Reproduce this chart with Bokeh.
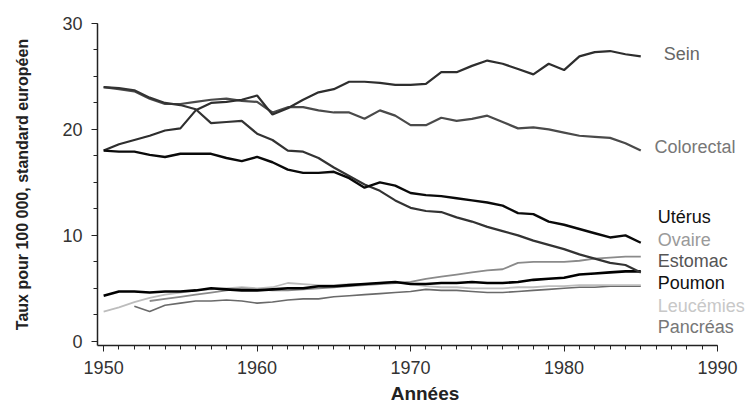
from bokeh.plotting import figure
from bokeh.models import Range1d, Label, SingleIntervalTicker
from bokeh.embed import file_html
from bokeh.resources import INLINE

years = list(range(1950, 1986))
years_ovaire = list(range(1953, 1986))
years_pancreas = list(range(1952, 1986))

sein = [18.0, 18.6, 19.0, 19.4, 19.9, 20.1, 21.8, 22.5, 22.6, 22.8, 23.2, 21.4,
        22.0, 22.8, 23.5, 23.8, 24.5, 24.5, 24.4, 24.2, 24.2, 24.3, 25.4, 25.4,
        26.0, 26.5, 26.2, 25.7, 25.2, 26.2, 25.6, 26.9, 27.3, 27.4, 27.1, 26.9]
colorectal = [24.0, 23.8, 23.6, 22.9, 22.4, 22.4, 22.6, 22.8, 22.9, 22.7, 22.6, 21.6,
              22.1, 22.1, 21.8, 21.6, 21.6, 21.0, 21.8, 21.3, 20.4, 20.4, 21.1, 20.8,
              21.0, 21.3, 20.7, 20.1, 20.2, 20.0, 19.7, 19.4, 19.3, 19.2, 18.7, 18.0]
uterus = [18.0, 17.9, 17.9, 17.6, 17.4, 17.7, 17.7, 17.7, 17.3, 17.0, 17.4, 16.9,
          16.2, 15.9, 15.9, 16.0, 15.4, 14.5, 15.0, 14.7, 14.0, 13.8, 13.7, 13.5,
          13.3, 13.1, 12.8, 12.1, 12.0, 11.3, 11.0, 10.6, 10.2, 9.8, 10.0, 9.3]
estomac = [24.0, 23.9, 23.7, 23.0, 22.5, 22.3, 21.9, 20.6, 20.7, 20.8, 19.6, 19.0,
           18.0, 17.9, 17.3, 16.4, 15.6, 14.8, 14.2, 13.3, 12.6, 12.3, 12.2, 11.7,
           11.3, 10.8, 10.4, 10.0, 9.5, 9.1, 8.7, 8.2, 7.8, 7.4, 7.2, 6.5]
ovaire = [3.8, 4.0, 4.2, 4.4, 4.6, 4.8, 5.0, 4.9, 4.8, 4.8, 4.9, 5.0,
          5.1, 5.2, 5.3, 5.4, 5.5, 5.6, 5.9, 6.1, 6.3, 6.5, 6.7, 6.8,
          7.4, 7.5, 7.5, 7.5, 7.6, 7.8, 7.9, 8.0, 8.0]
poumon = [4.3, 4.7, 4.7, 4.6, 4.7, 4.7, 4.8, 5.0, 4.9, 4.8, 4.8, 4.9,
          5.0, 5.0, 5.2, 5.2, 5.3, 5.4, 5.5, 5.6, 5.4, 5.4, 5.5, 5.5,
          5.6, 5.5, 5.5, 5.6, 5.8, 5.9, 6.0, 6.3, 6.4, 6.5, 6.6, 6.6]
leucemies = [2.8, 3.2, 3.7, 4.1, 4.4, 4.6, 4.8, 4.9, 5.0, 5.1, 5.0, 5.1,
             5.5, 5.4, 5.3, 5.3, 5.4, 5.4, 5.5, 5.6, 5.4, 5.2, 5.1, 5.1,
             5.0, 5.0, 5.0, 5.1, 5.1, 5.2, 5.2, 5.3, 5.3, 5.3, 5.3, 5.3]
pancreas = [3.3, 2.8, 3.4, 3.6, 3.8, 3.8, 3.9, 3.8, 3.6, 3.7, 3.9,
            4.0, 4.0, 4.2, 4.3, 4.4, 4.5, 4.6, 4.7, 4.9, 4.8, 4.8, 4.7,
            4.6, 4.6, 4.7, 4.8, 4.9, 5.0, 5.1, 5.1, 5.2, 5.2, 5.2]

label_names = ["Sein", "Colorectal", "Utérus", "Ovaire", "Estomac", "Poumon", "Leucémies", "Pancréas"]
label_x = [1986.5, 1985.9, 1986.1, 1986.1, 1986.1, 1986.1, 1986.1, 1986.1]
label_y = [27.1, 18.3, 11.7, 9.6, 7.6, 5.5, 3.3, 1.3]
label_colors = ["#666666", "#777777", "#111111", "#9a9a9a", "#555555", "#111111", "#c8c8c8", "#777777"]

FONT = "Liberation Sans"

# frame runs to the right edge so the series names are not clipped;
# the x axis itself stops at 1990 through its bounds
p = figure(width=752, height=406, output_backend="svg", toolbar_location=None,
           x_range=Range1d(1949.6, 1992.28), y_range=Range1d(-0.4, 30),
           min_border_left=97, min_border_right=0, min_border_top=23, min_border_bottom=60)
p.outline_line_color = None
p.grid.visible = False
p.background_fill_color = "white"

series = [
    (years_pancreas, pancreas, "#6a6a6a", 1.6),
    (years, leucemies, "#bdbdbd", 1.8),
    (years_ovaire, ovaire, "#8a8a8a", 1.8),
    (years, poumon, "#000000", 2.6),
    (years, colorectal, "#4a4a4a", 2.2),
    (years, sein, "#2e2e2e", 2.2),
    (years, estomac, "#333333", 2.2),
    (years, uterus, "#0a0a0a", 2.4),
]
for xs, ys, col, w in series:
    p.line(xs, ys, line_color=col, line_width=w)

for name, lx, ly, col in zip(label_names, label_x, label_y, label_colors):
    p.add_layout(Label(x=lx, y=ly, text=name, text_color=col, text_font=FONT,
                       text_font_size="18px", text_baseline="middle", text_align="left"))

p.xaxis.ticker = SingleIntervalTicker(interval=10, num_minor_ticks=10)
p.yaxis.ticker = SingleIntervalTicker(interval=10, num_minor_ticks=4)
p.xaxis.bounds = (1949.6, 1990)
for ax in (p.xaxis[0], p.yaxis[0]):
    ax.axis_line_color = "#222222"
    ax.axis_line_width = 1.5
    ax.major_tick_line_color = "#222222"
    ax.minor_tick_line_color = "#222222"
    ax.major_tick_out = 6
    ax.major_tick_in = 0
    ax.minor_tick_out = 4
    ax.minor_tick_in = 0
    ax.major_label_text_font = FONT
    ax.major_label_text_font_size = "18px"
    ax.major_label_text_color = "#333333"
    ax.axis_label_text_font = FONT
    ax.axis_label_text_font_style = "bold"
    ax.axis_label_text_color = "#222222"

p.xaxis.axis_label = "Années"
p.xaxis.axis_label_text_font_size = "19px"
p.xaxis.major_label_standoff = 9
p.xaxis.axis_label_standoff = 6
p.yaxis.axis_label = "Taux pour 100 000, standard européen"
p.yaxis.axis_label_text_font_size = "16px"
p.yaxis.major_label_standoff = 9
p.yaxis.axis_label_standoff = 28

open("out.html", "w").write(file_html(p, INLINE))
